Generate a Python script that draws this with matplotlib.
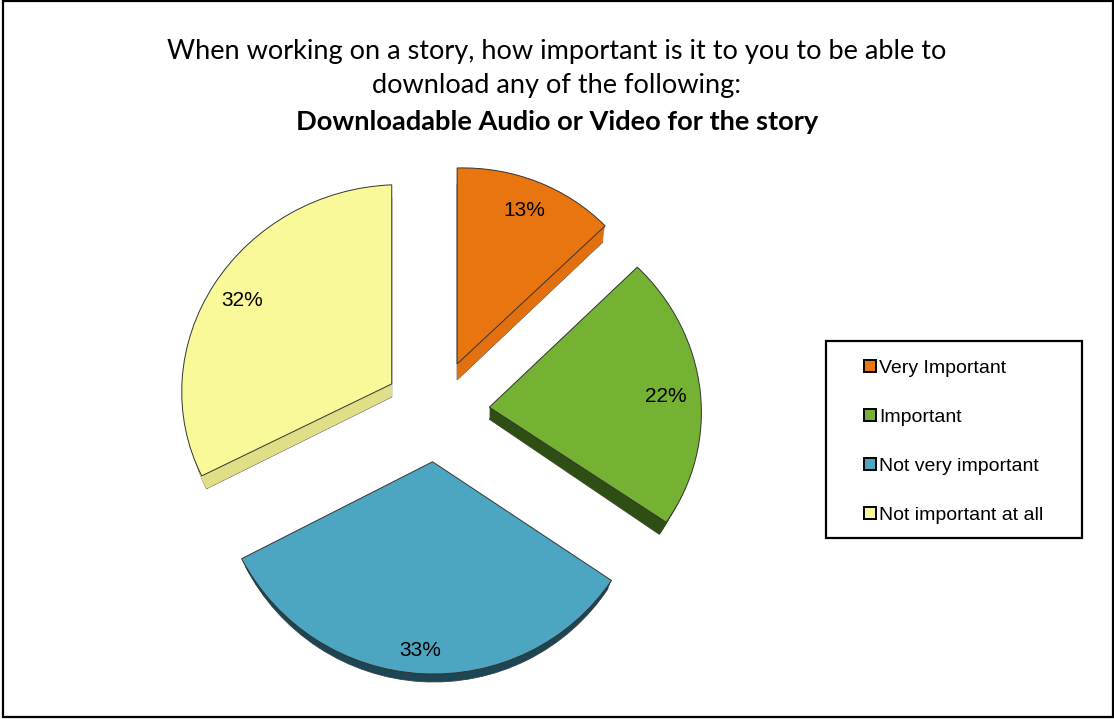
import matplotlib
matplotlib.use("Agg")
import matplotlib.pyplot as plt
from matplotlib.patches import Rectangle, Patch
from matplotlib.transforms import Affine2D

categories = ["Very Important", "Important", "Not very important", "Not important at all"]
values = [13, 22, 33, 32]
title_lines = ["When working on a story, how important is it to you to be able to",
               "download any of the following:"]
title_bold = "Downloadable Audio or Video for the story"

top_colors = ["#E97510", "#75B132", "#4CA6C1", "#F9F99A"]
side_colors = ["#E2700F", "#2F4E13", "#1E4553", "#DFDF87"]
depths = [16, 12, 8, 13]
side_shrink = [0.985, 0.96, 0.98, 0.975]
# per-slice perspective: (xx, xy, yx, yy)
persp = [(0.967, 0.0, 0.0255, 0.933),
         (1.009, -0.0447, 0.0173, 0.956),
         (1.024, -0.0404, 0.035, 1.01),
         (1.0, 0.0, 0.038, 0.948)]
offsets = [(0.3, 0.0), (1.0, 1.5), (1.5, 2.4), (0.0, 0.0)]
label_xy = [(524, 211), (666, 397), (420, 651), (242, 301)]

W, H = 1114, 719
fig = plt.figure(figsize=(W / 100, H / 100), dpi=100)
ax = fig.add_axes([0, 0, 1, 1])


def Y(py):
    return H - py


CX, CY, R, EXPL = 436, 412, 210, 52.4


def draw_pie(dy, colors, edge, lw, zorder, show=None, frac=None):
    res = ax.pie(values, colors=colors, radius=R, center=(CX, Y(CY + dy)),
                 explode=[EXPL] * len(values), startangle=90, counterclock=False,
                 wedgeprops=dict(edgecolor=edge, linewidth=lw, zorder=zorder),
                 autopct=(lambda p: f"{p:.0f}%") if show is None else None,
                 textprops=dict(family="Liberation Sans", fontsize=15, color="black", zorder=20))
    wedges = res[0]
    for i, w in enumerate(wedges):
        cx, cy = w.center
        xx, xy, yx, yy = persp[i]
        ox, oy = offsets[i]
        shrink = 1.0
        if frac is not None:
            shrink = 1 - (1 - side_shrink[i]) * frac[i]
        M = (Affine2D().translate(-cx, -cy).scale(shrink, 1)
             + Affine2D.from_values(xx, yx, xy, yy, 0, 0)
             + Affine2D().translate(cx + ox, cy + oy))
        w.set_transform(M + ax.transData)
        if show is not None and not show[i]:
            w.set_visible(False)
    return res


for d in range(max(depths), 0, -1):
    draw_pie(d, side_colors, "none", 0, 2 + (max(depths) - d) * 0.01,
             show=[d <= k for k in depths], frac=[d / k for k in depths])
# outline of the lowest edge of each side wall
for i, k in enumerate(depths):
    draw_pie(k, ["none"] * 4, "#444444", 0.6, 1.9, show=[j == i for j in range(4)],
             frac=[1, 1, 1, 1])

wedges, texts, autotexts = draw_pie(0, top_colors, "#333333", 0.7, 5)
for t, (x, y) in zip(autotexts, label_xy):
    t.set_position((x, Y(y)))
    t.set_ha("center")
    t.set_va("center")

ax.set_aspect("auto")
ax.set_xlim(0, W)
ax.set_ylim(0, H)
ax.axis("off")

# outer frame
ax.add_patch(Rectangle((2.5, Y(717)), 1110.5, 716, fill=False, edgecolor="black", linewidth=1.6, zorder=30))

# title
for line, py in zip(title_lines, (51, 86)):
    ax.text(557, Y(py), line, ha="center", va="center", family="Lato", fontsize=19.5, color="black")
ax.text(557, Y(122), title_bold, ha="center", va="center", family="Lato",
        fontweight="bold", fontsize=19.6, color="black")

# legend
ax.add_patch(Rectangle((825.5, Y(538)), 256.5, 197, facecolor="white", edgecolor="black", linewidth=1.6, zorder=10))
handles = [Patch(facecolor=c, edgecolor="black", linewidth=1.4) for c in top_colors]
leg = ax.legend(handles, categories, loc="center left", bbox_to_anchor=(864, Y(442)),
                bbox_transform=ax.transData, frameon=False, borderpad=0, borderaxespad=0,
                prop=dict(family="Liberation Sans", size=14.0), handlelength=0.6, handleheight=0.6,
                handletextpad=0.17, labelspacing=1.64)
leg.set_zorder(15)

fig.savefig("out.png", dpi=100)
